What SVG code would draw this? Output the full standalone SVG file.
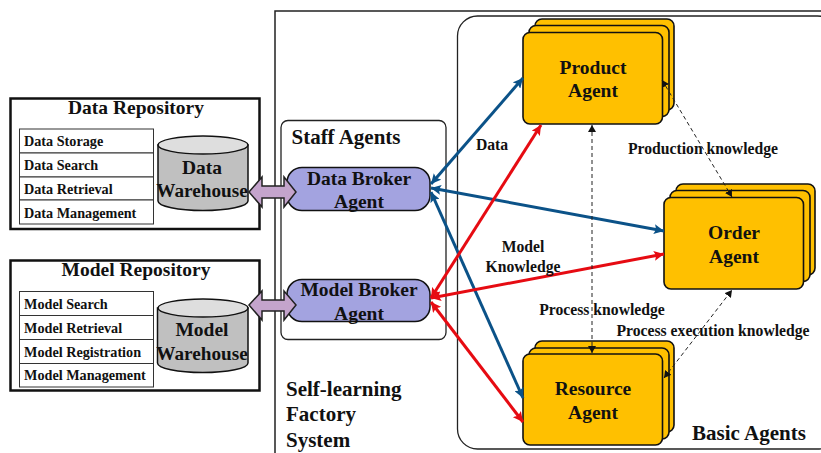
<svg xmlns="http://www.w3.org/2000/svg" width="821" height="453" viewBox="0 0 821 453">
<style>
text{font-family:"Liberation Serif","Times New Roman",serif;font-weight:bold;fill:#111;text-anchor:middle}
.t{font-size:19.5px}.a{font-size:19.5px}.w{font-size:19.2px}.i{font-size:14.2px;text-anchor:start}.l{font-size:15.7px}.h{font-size:21px}
.repo{fill:#fff;stroke:#111;stroke-width:2.5}.row{fill:#fff;stroke:#333;stroke-width:1}
.cyl{fill:#c0c0c0;stroke:#111;stroke-width:1.5}.top{fill:#dedede;stroke:#111;stroke-width:1.5}
.broker{fill:#a3a3e0;stroke:#111;stroke-width:1.5}
.ag{fill:#ffc000;stroke:#111;stroke-width:1.6}
.dbl{fill:#c4a4cc;stroke:#222;stroke-width:1.5}
.blue{fill:none;stroke:#0b5288;stroke-width:3}.red{fill:none;stroke:#e60b12;stroke-width:3}
.dash{fill:none;stroke:#222;stroke-width:1;stroke-dasharray:4 3}
</style>
<defs>
<marker id="mb" markerUnits="userSpaceOnUse" markerWidth="12" markerHeight="10" refX="10" refY="5" orient="auto-start-reverse"><path d="M0,0L10,5L0,10L2,5Z" fill="#0b5288"/></marker>
<marker id="mr" markerUnits="userSpaceOnUse" markerWidth="12" markerHeight="10" refX="10" refY="5" orient="auto-start-reverse"><path d="M0,0L10,5L0,10L2,5Z" fill="#e60b12"/></marker>
<marker id="mk" markerUnits="userSpaceOnUse" markerWidth="9" markerHeight="8" refX="7" refY="4" orient="auto-start-reverse"><path d="M0,0L7,4L0,8Z" fill="#111"/></marker>
</defs>
<g id="system"><path d="M275,453V11H821" fill="none" stroke="#222" stroke-width="1.5"/>
<text class="h" x="286" y="396" style="text-anchor:start">Self-learning</text><text class="h" x="286" y="421" style="text-anchor:start">Factory</text><text class="h" x="286" y="447" style="text-anchor:start">System</text></g>
<g id="basic-agents"><rect x="457.500" y="16" width="380" height="433" rx="20" fill="#fff" stroke="#222" stroke-width="1.3"/><text class="h" x="749" y="440">Basic Agents</text></g>
<g id="staff-agents"><rect x="281" y="120.500" width="165" height="219" rx="7" fill="#fff" stroke="#222" stroke-width="1.3"/><text class="h" x="346" y="144">Staff Agents</text></g>
<g id="data-repository"><rect class="repo" x="10.500" y="98.500" width="249" height="130.500"/><text class="t" x="136" y="114">Data Repository</text>
<rect class="row" x="19.500" y="129" width="134" height="24"/><rect class="row" x="19.500" y="153" width="134" height="24"/><rect class="row" x="19.500" y="177" width="134" height="23"/><rect class="row" x="19.500" y="200" width="134" height="24"/>
<text class="i" x="24" y="146">Data Storage</text><text class="i" x="24" y="170">Data Search</text><text class="i" x="24" y="194">Data Retrieval</text><text class="i" x="24" y="218">Data Management</text>
<path class="cyl" d="M158,145V201A45,9.500 0 0 0 248,201V145Z"/><ellipse class="top" cx="203" cy="145" rx="45" ry="9"/>
<text class="a" x="202" y="174">Data</text><text class="w" x="202" y="197">Warehouse</text></g>
<g id="model-repository"><rect class="repo" x="10.500" y="260.500" width="249" height="130"/><text class="t" x="136" y="276">Model Repository</text>
<rect class="row" x="19.500" y="291.500" width="134" height="24"/><rect class="row" x="19.500" y="315.500" width="134" height="24"/><rect class="row" x="19.500" y="339.500" width="134" height="24"/><rect class="row" x="19.500" y="363.500" width="134" height="23.500"/>
<text class="i" x="24" y="309">Model Search</text><text class="i" x="24" y="333">Model Retrieval</text><text class="i" x="24" y="357">Model Registration</text><text class="i" x="24" y="380">Model Management</text>
<path class="cyl" d="M157.500,308V363A45,9.500 0 0 0 248,363V308Z"/><ellipse class="top" cx="203" cy="308" rx="45" ry="9"/>
<text class="a" x="202" y="336">Model</text><text class="w" x="202" y="360">Warehouse</text></g>
<g id="data-broker"><rect class="broker" x="287" y="167.500" width="143" height="43" rx="15"/><text class="a" x="359" y="185">Data Broker</text><text class="a" x="359" y="208">Agent</text></g>
<g id="model-broker"><rect class="broker" x="287" y="279.500" width="143" height="42" rx="15"/><text class="a" x="359" y="296">Model Broker</text><text class="a" x="359" y="320">Agent</text></g>
<g id="product-agent"><rect class="ag" x="535" y="19" width="139" height="91" rx="7"/><rect class="ag" x="529" y="25.500" width="140" height="91" rx="7"/><rect class="ag" x="523" y="32.500" width="139.500" height="91.500" rx="7"/><text class="a" x="593" y="74">Product</text><text class="a" x="593" y="97">Agent</text></g>
<g id="order-agent"><rect class="ag" x="676" y="184" width="139" height="91" rx="7"/><rect class="ag" x="670" y="190.500" width="140" height="91" rx="7"/><rect class="ag" x="664" y="197.500" width="139.500" height="91.500" rx="7"/><text class="a" x="734" y="239">Order</text><text class="a" x="734" y="263">Agent</text></g>
<g id="resource-agent"><rect class="ag" x="535" y="341" width="139" height="91" rx="7"/><rect class="ag" x="529" y="348" width="140" height="91" rx="7"/><rect class="ag" x="523" y="354" width="139.500" height="91" rx="7"/><text class="a" x="593" y="395">Resource</text><text class="a" x="593" y="419">Agent</text></g>
<g id="connectors">
<path class="dbl" d="M249,192L262,177V186H284V177L296,192L284,207V198H262V207Z"/>
<path class="dbl" d="M249,305L262,291V300H284V291L296,305L284,320V311H262V320Z"/>
<line class="blue" x1="431" y1="184" x2="523" y2="78" marker-start="url(#mb)" marker-end="url(#mb)"/>
<line class="blue" x1="431" y1="188" x2="664" y2="231" marker-start="url(#mb)" marker-end="url(#mb)"/>
<line class="blue" x1="431" y1="192" x2="523" y2="398" marker-start="url(#mb)" marker-end="url(#mb)"/>
<line class="red" x1="431" y1="298" x2="541" y2="125" marker-start="url(#mr)" marker-end="url(#mr)"/>
<line class="red" x1="431" y1="298" x2="664" y2="254" marker-start="url(#mr)" marker-end="url(#mr)"/>
<line class="red" x1="431" y1="302" x2="523" y2="422" marker-start="url(#mr)" marker-end="url(#mr)"/>
<line class="dash" x1="592" y1="125" x2="592" y2="353" marker-start="url(#mk)" marker-end="url(#mk)"/>
<line class="dash" x1="662" y1="80" x2="732" y2="197" marker-start="url(#mk)" marker-end="url(#mk)"/>
<line class="dash" x1="664" y1="378" x2="732" y2="290" marker-start="url(#mk)" marker-end="url(#mk)"/>
<text class="l" x="492" y="150">Data</text>
<text class="l" x="523" y="252">Model</text><text class="l" x="523" y="272">Knowledge</text>
<text class="l" x="703" y="154">Production knowledge</text>
<text class="l" x="602" y="315">Process knowledge</text>
<text class="l" x="713" y="336">Process execution knowledge</text>
</g>
</svg>
